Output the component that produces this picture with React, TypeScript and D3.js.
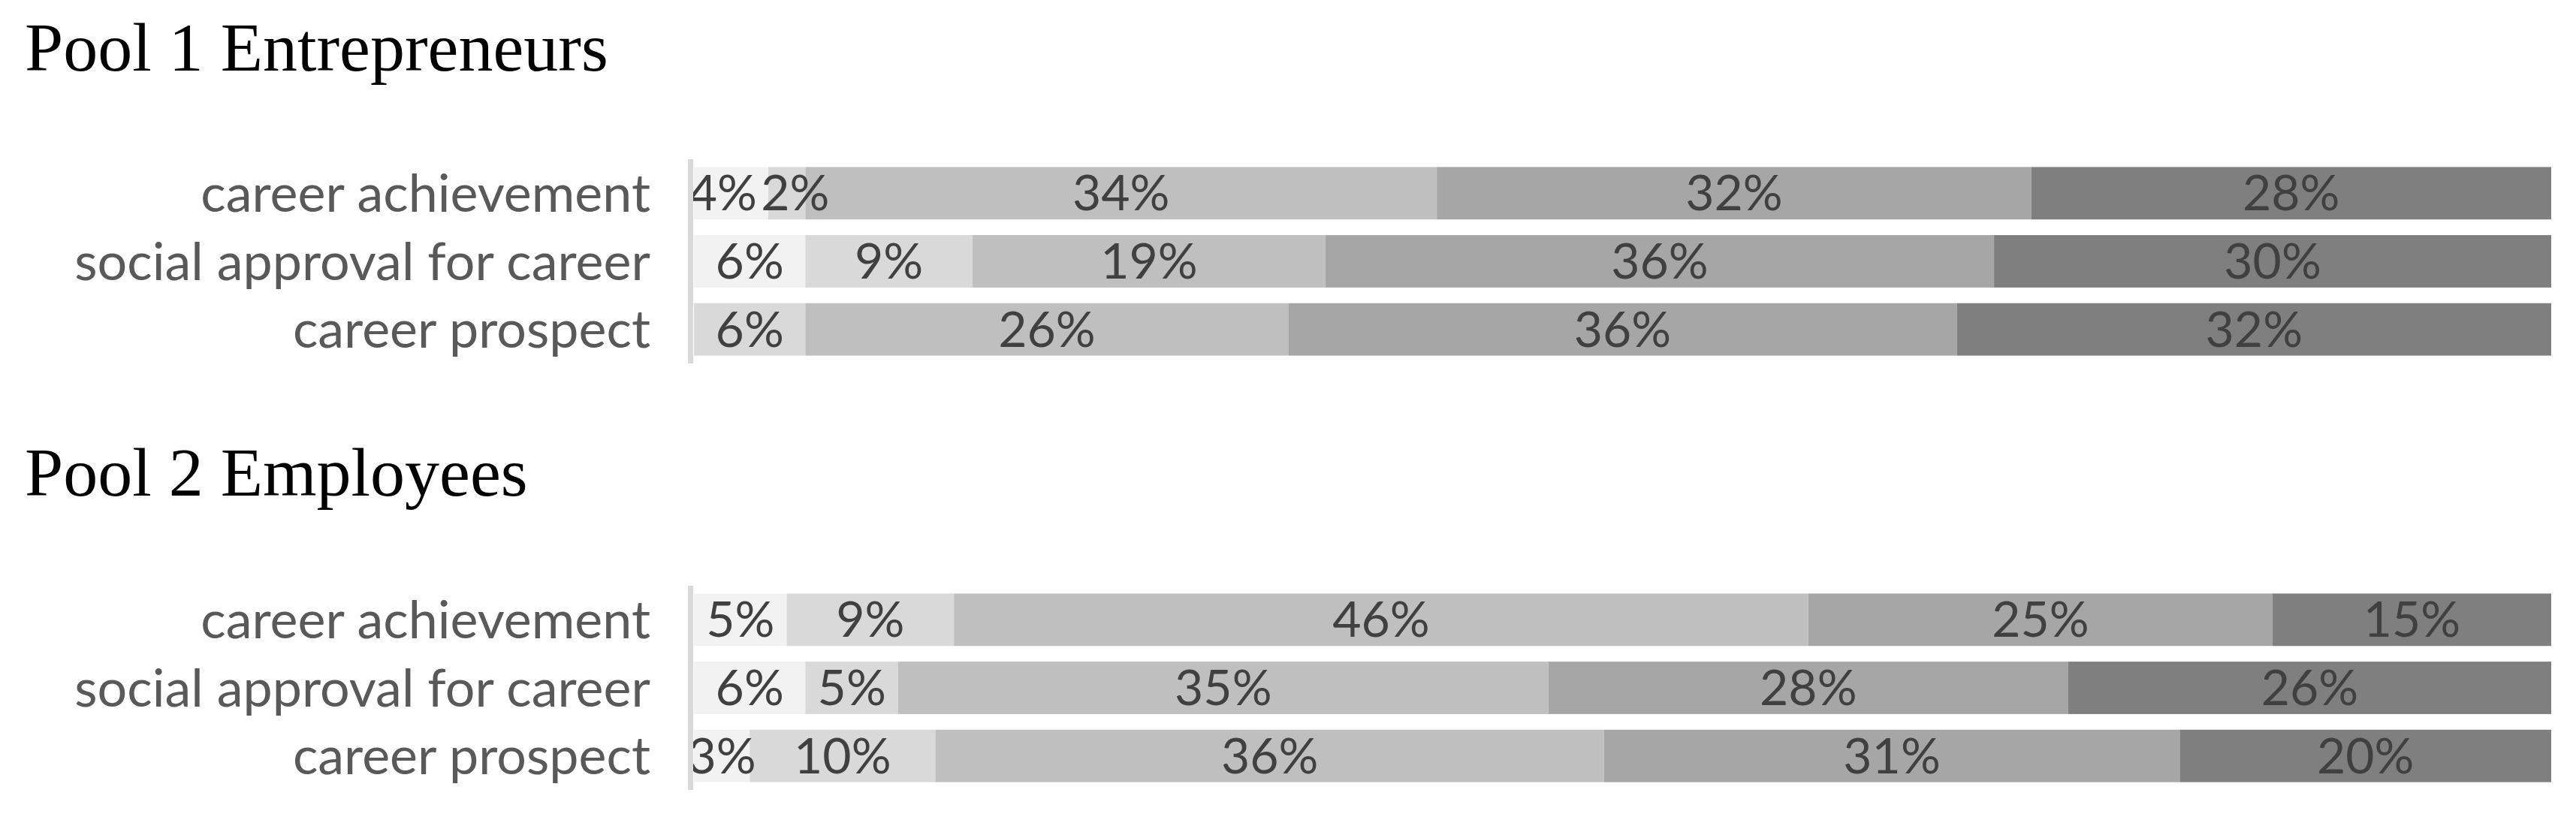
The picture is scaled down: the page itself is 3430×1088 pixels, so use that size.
import React from "react";
import * as d3 from "d3";

const width = 3430;
const height = 1088;

const categories = ["career achievement", "social approval for career", "career prospect"];
const levels = ["strongly disagree", "disagree", "neutral", "agree", "strongly agree"];
const levelColors = ["#f2f2f2", "#d9d9d9", "#bfbfbf", "#a6a6a6", "#7f7f7f"];

// one row per category, one value per level (percent)
const pool1Values = [
  [4, 2, 34, 32, 28],
  [6, 9, 19, 36, 30],
  [0, 6, 26, 36, 32],
];
const pool2Values = [
  [5, 9, 46, 25, 15],
  [6, 5, 35, 28, 26],
  [3, 10, 36, 31, 20],
];

const pools = [
  { title: "Pool 1 Entrepreneurs", values: pool1Values, titleY: 94, top: 212 },
  { title: "Pool 2 Employees", values: pool2Values, titleY: 660, top: 780 },
];

const x0 = 924;
const x1 = 3397;
const blockHeight = 272;
const pctSize = 66;

const x = d3.scaleLinear().domain([0, 100]).range([x0, x1]);
const color = d3.scaleOrdinal<string, string>().domain(levels).range(levelColors);

// rough label width, then push neighbours apart when they collide
function placeLabels(segs) {
  const labels = segs.map((s) => ({
    ...s,
    cx: (s.a + s.b) / 2,
    w: (String(s.v).length * 0.58 + 0.82) * pctSize,
  }));
  for (let k = 0; k < 5; k++) {
    for (let i = 0; i < labels.length - 1; i++) {
      const l = labels[i];
      const r = labels[i + 1];
      const overlap = l.cx + l.w / 2 + 4 - (r.cx - r.w / 2);
      if (overlap > 0) {
        l.cx -= overlap / 2;
        r.cx += overlap / 2;
      }
    }
  }
  return labels;
}

function Pool({ title, values, titleY, top }) {
  const y = d3
    .scaleBand()
    .domain(categories)
    .range([top, top + blockHeight])
    .paddingInner(0.23)
    .paddingOuter(0.115);

  const rows = categories.map((c, i) => {
    const r: any = { category: c };
    levels.forEach((l, j) => (r[l] = values[i][j]));
    return r;
  });
  const series = d3.stack().keys(levels)(rows);

  const rowLabels = categories.map((c, i) =>
    placeLabels(
      series
        .map((s) => ({ key: s.key, a: x(s[i][0]), b: x(s[i][1]), v: s[i][1] - s[i][0] }))
        .filter((d) => d.v > 0)
    )
  );

  return (
    <g>
      <text x={33} y={titleY} fontFamily="'Liberation Serif', serif" fontSize={92} fill="#000">
        {title}
      </text>
      {series.map((s) => (
        <g key={s.key} fill={color(s.key)}>
          {s.map((d, i) =>
            d[1] - d[0] > 0 ? (
              <rect
                key={i}
                x={x(d[0])}
                y={y(categories[i])}
                width={x(d[1]) - x(d[0])}
                height={y.bandwidth()}
              />
            ) : null
          )}
        </g>
      ))}
      {rowLabels.map((labels, i) =>
        labels.map((d) => (
          <text
            key={categories[i] + d.key}
            x={d.cx}
            y={y(categories[i]) + y.bandwidth() / 2}
            dy="0.35em"
            textAnchor="middle"
            fontFamily="Lato, sans-serif"
            fontSize={pctSize}
            fill="#404040"
          >
            {d.v}%
          </text>
        ))
      )}
      <line x1={919.5} x2={919.5} y1={top} y2={top + blockHeight} stroke="#d9d9d9" strokeWidth={7} />
      {categories.map((c) => (
        <text
          key={c}
          x={866}
          y={y(c) + y.bandwidth() / 2}
          dy="0.35em"
          textAnchor="end"
          fontFamily="Lato, sans-serif"
          fontSize={70}
          fill="#595959"
        >
          {c}
        </text>
      ))}
    </g>
  );
}

export default function App() {
  return (
    <svg
      width={width}
      height={height}
      style={{ position: "absolute", left: 0, top: 0, background: "#fff" }}
    >
      {pools.map((p) => (
        <Pool key={p.title} {...p} />
      ))}
    </svg>
  );
}
